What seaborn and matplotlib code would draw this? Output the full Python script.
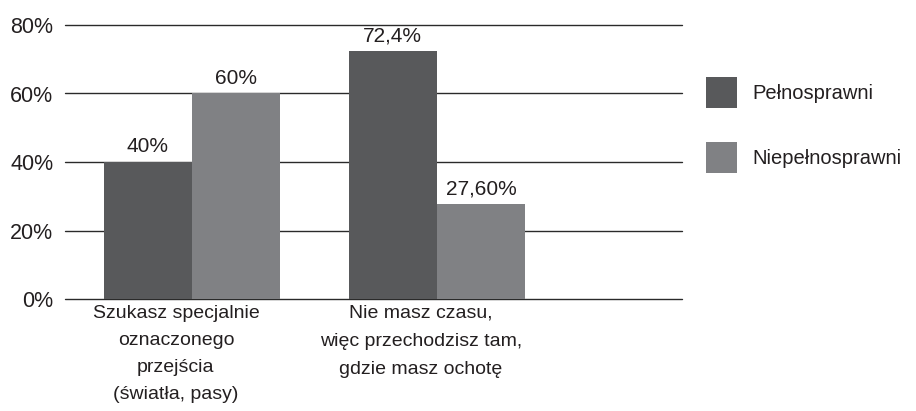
import matplotlib
matplotlib.use("Agg")
import matplotlib.pyplot as plt
import matplotlib.transforms as mtransforms
import pandas as pd
import seaborn as sns

# Dane

categories = [
    "Szukasz specjalnie\noznaczonego\nprzejścia\n(światła, pasy)",
    "Nie masz czasu,\nwięc przechodzisz tam,\ngdzie masz ochotę",
]
groups = ["Pełnosprawni", "Niepełnosprawni"]
values_pelno = [40.0, 72.4]
values_niepelno = [60.0, 27.6]
labels_pelno = ["40%", "72,4%"]
labels_niepelno = ["60%", "27,60%"]
yticks = [0, 20, 40, 60, 80]
ytick_labels = ["0%", "20%", "40%", "60%", "80%"]

colors = ["#58595b", "#808184"]
text_color = "#231f20"

df = pd.DataFrame({
    "Kategoria": categories * 2,
    "Grupa": [groups[0]] * 2 + [groups[1]] * 2,
    "Wartosc": values_pelno + values_niepelno,
})

sns.set_style("white")
plt.rcParams["font.family"] = ["Liberation Sans", "DejaVu Sans"]

fig = plt.figure(figsize=(9.16, 4.11), dpi=100)
ax = fig.add_axes([65 / 916, 1 - 299 / 411, (682 - 65) / 916, (299 - 25) / 411])

sns.barplot(
    data=df,
    x="Kategoria",
    y="Wartosc",
    hue="Grupa",
    palette=colors,
    width=0.72,
    gap=0,
    saturation=1,
    linewidth=0,
    ax=ax,
    legend=True,
)

for container, labels in zip(ax.containers, [labels_pelno, labels_niepelno]):
    ax.bar_label(container, labels=labels, padding=4, fontsize=15, color=text_color)

ax.set_xlim(-0.518, 2.0)
ax.set_ylim(0, 80)
ax.set_yticks(yticks)
ax.set_yticklabels(ytick_labels, fontsize=15.5, color=text_color)
ax.yaxis.grid(True, color="#2a2a2a", linewidth=1.0)
ax.set_axisbelow(True)
ax.tick_params(axis="both", length=0)
ax.tick_params(axis="y", pad=8.5)
ax.tick_params(axis="x", pad=4)

# linia 0% i 80% leżą na krawędzi osi - bez przycinania
for line in ax.get_ygridlines():
    line.set_clip_on(False)

# przesunięcie etykiet kategorii lekko w lewo, jak w oryginale
spacing = [1.78, 1.88]
for lbl, ls in zip(ax.get_xticklabels(), spacing):
    lbl.set_fontsize(14)
    lbl.set_color(text_color)
    lbl.set_linespacing(ls)
    lbl.set_transform(lbl.get_transform() + mtransforms.ScaledTranslation(-16 / 100, 0, fig.dpi_scale_trans))
ax.set_xlabel("")
ax.set_ylabel("")
sns.despine(ax=ax, left=True, bottom=True, top=True, right=True)

handles, leg_labels = ax.get_legend_handles_labels()
ax.get_legend().remove()
fig.legend(
    handles,
    leg_labels,
    loc="upper left",
    bbox_to_anchor=(706 / 916, 1 - 77 / 411),
    frameon=False,
    fontsize=14.5,
    handlelength=1.55,
    handleheight=2.0,
    handletextpad=0.75,
    labelspacing=1.7,
    borderpad=0,
    borderaxespad=0,
    labelcolor=text_color,
)

fig.savefig("out.png", dpi=100)
